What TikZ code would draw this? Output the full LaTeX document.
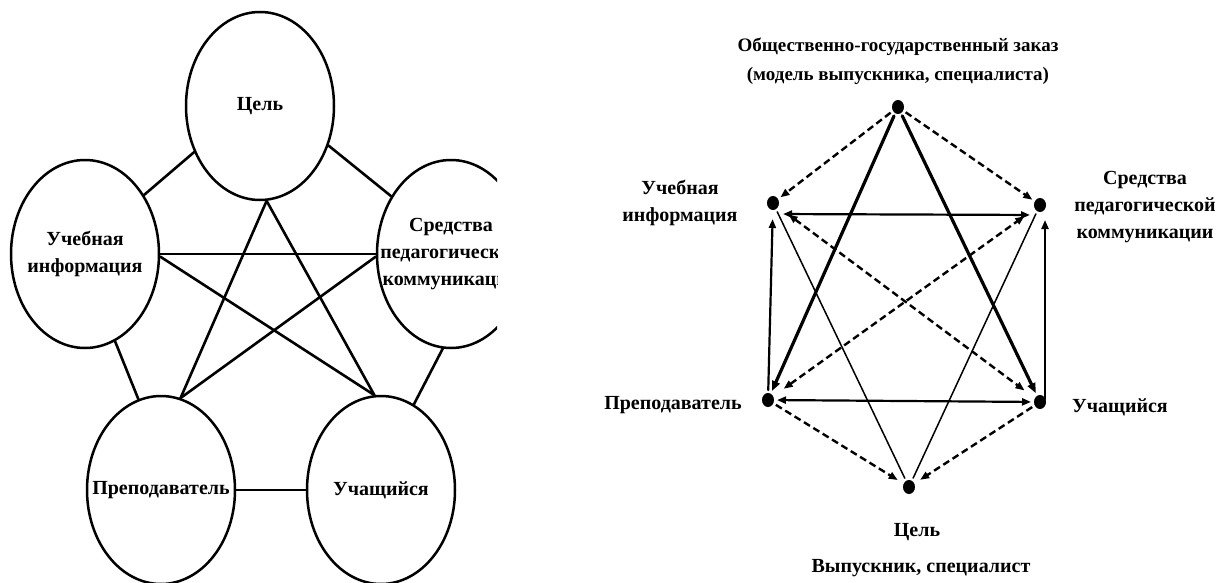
\documentclass[tikz,border=0pt]{standalone}
\usepackage{fontspec}
\setmainfont{Liberation Serif}
\usetikzlibrary{arrows.meta,shapes.geometric}
\begin{document}
\begin{tikzpicture}[x=1pt, y=-1pt, line join=round, line cap=round,
  blob/.style={draw, ellipse, line width=2.5pt, minimum width=148pt, minimum height=188pt, inner sep=0pt},
  lbl/.style={inner sep=0pt, align=center, font=\bfseries\fontsize{20}{27}\selectfont},
  link/.style={line width=2.6pt},
  dot/.style={ellipse, fill, inner sep=0pt, minimum width=12pt, minimum height=14pt, outer sep=3pt},
  onearr/.style={line width=2.2pt, -{Triangle[length=9pt,width=7pt]}},
  botharr/.style={line width=2.2pt, {Triangle[length=9pt,width=7pt]}-{Triangle[length=9pt,width=7pt]}},
  boldarr/.style={line width=3.2pt, -{Triangle[length=10pt,width=8pt]}},
  dasharr/.style={line width=2.4pt, dash pattern=on 7pt off 4pt, line cap=butt, -{Triangle[length=9pt,width=7pt]}},
  dashboth/.style={dasharr, {Triangle[length=9pt,width=7pt]}-{Triangle[length=9pt,width=7pt]}, shorten <=10pt, shorten >=10pt},
  thinline/.style={line width=1.5pt}]
\useasboundingbox[fill=white] (0,0) rectangle (1219,583);
\begin{scope}
\clip (0,0) rectangle (497,583);
\node[blob, label={[lbl]center:Цель}] (lgoal) at (260,106) {};
\node[blob, label={[lbl]center:Учебная\\информация}] (linfo) at (85,254) {};
\node[blob, label={[lbl]center:Средства\\педагогической\\коммуникации}] (lmeans) at (451,254) {};
\node[blob, label={[lbl]center:Преподаватель}] (lteacher) at (161,490) {};
\node[blob, label={[lbl]center:Учащийся}] (llearner) at (381,490) {};
\draw[link] (lgoal.215) -- (linfo.45);
\draw[link] (lgoal.330) -- (lmeans.136);
\draw[link] (linfo.289) -- (lteacher.104);
\draw[link] (lmeans.265) -- (llearner.69);
\draw[link] (lteacher.east) -- (llearner.west);
\draw[link] (lgoal.274) -- (lteacher.78);
\draw[link] (lgoal.274) -- (llearner.94);
\draw[link] (linfo.east) -- (lmeans.west);
\draw[link] (linfo.358) -- (llearner.94);
\draw[link] (lmeans.182) -- (lteacher.78);
\end{scope}
\node[dot] (rorder) at (898,107) {};
\node[dot] (rinfo) at (773,203) {};
\node[dot] (rmeans) at (1040,205) {};
\node[dot] (rteacher) at (768,400) {};
\node[dot] (rlearner) at (1040,402) {};
\node[dot] (rgoal) at (909,487) {};
\draw[dasharr] (rorder) -- (rinfo);
\draw[dasharr] (rorder) -- (rmeans);
\draw[boldarr] (rorder) -- (rteacher);
\draw[boldarr] (rorder) -- (rlearner);
\draw[botharr, shorten <=10pt, shorten >=10pt] ([yshift=-11pt]rinfo.center) -- ([yshift=-10pt]rmeans.center);
\draw[botharr] (rteacher) -- (rlearner);
\draw[onearr, shorten >=6pt] (rteacher) -- (rinfo);
\draw[onearr, shorten <=3pt, shorten >=15pt] ([xshift=5pt]rlearner.center) -- ([xshift=5pt]rmeans.center);
\draw[thinline] (rinfo) -- (rgoal);
\draw[thinline] (rmeans) -- (rgoal);
\draw[dashboth] (rinfo) -- (rlearner);
\draw[dashboth] (rteacher) -- (rmeans);
\draw[dasharr, shorten >=4pt] (rteacher) -- (rgoal);
\draw[dasharr, shorten >=4pt] (rlearner) -- (rgoal);
\node[lbl, font=\bfseries\fontsize{19}{29}\selectfont] (torder) at (898,61) {Общественно-государственный заказ\\(модель выпускника, специалиста)};
\node[lbl] (tinfo) at (680,203) {Учебная\\информация};
\node[lbl] (tmeans) at (1145,207) {Средства\\педагогической\\коммуникации};
\node[lbl] (tteacher) at (673,405) {Преподаватель};
\node[lbl] (tlearner) at (1120,407) {Учащийся};
\node[lbl] (tgoal) at (917,532) {Цель};
\node[lbl] (tgrad) at (921,568) {Выпускник, специалист};
\end{tikzpicture}
\end{document}
